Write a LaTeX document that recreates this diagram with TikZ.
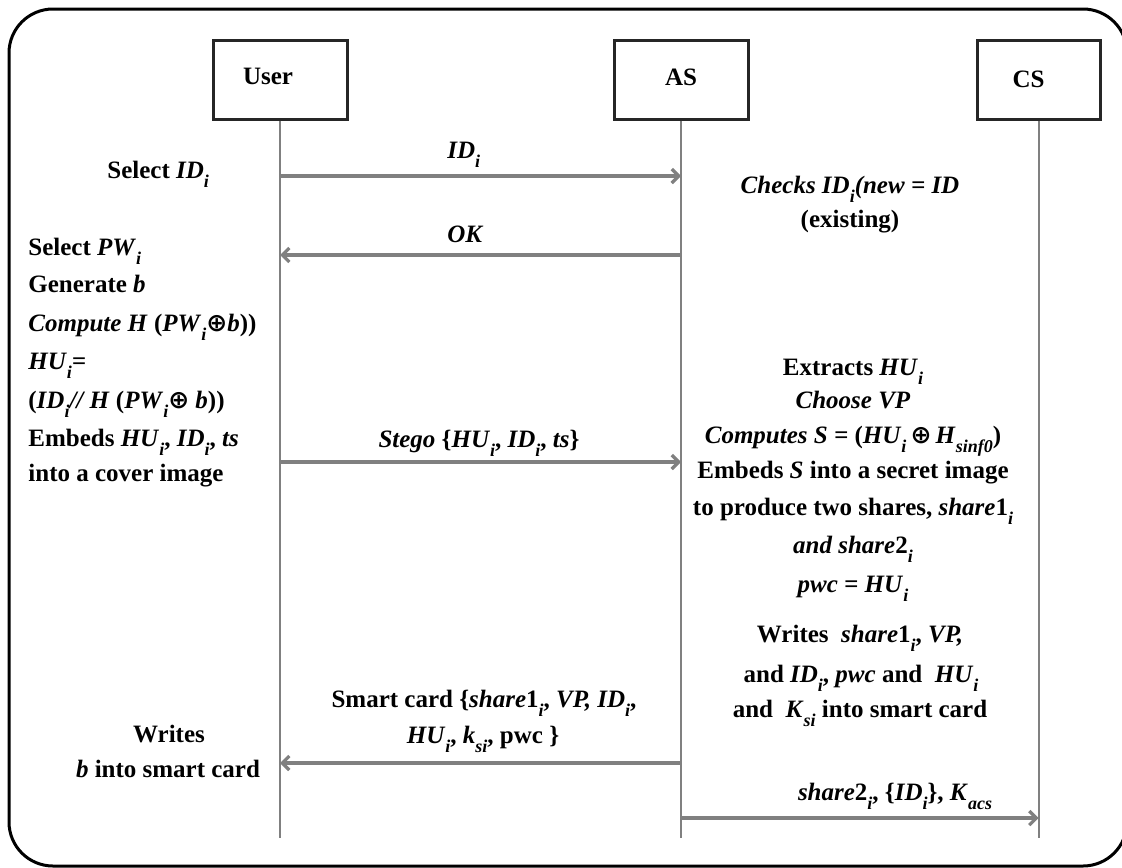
\documentclass[tikz,border=0pt]{standalone}
\usepackage{fontspec}
\setmainfont{Liberation Serif}
\newfontfamily\symfont{DejaVu Sans}
\usetikzlibrary{arrows.meta}
\newcommand{\lo}[1]{\raisebox{-0.85ex}{\fontsize{9}{9}\selectfont\bfseries\itshape #1}}
\newcommand{\xo}{{\symfont\bfseries\char"2295}}
\begin{document}
\begin{tikzpicture}[x=0.5pt,y=-0.5pt,
  every node/.style={font=\fontsize{12.5}{14}\selectfont\bfseries, inner sep=0pt},
  actor/.style={draw=black!85, line width=1.5pt, minimum height=39.5pt, fill=white, font=\fontsize{12.5}{14}\selectfont\bfseries},
  life/.style={draw=black!50, line width=1pt},
  msg/.style={draw=black!50, line width=1.6pt, -{Straight Barb[length=3.5pt,width=7pt]}},
  ln/.style={anchor=base},
  lnw/.style={anchor=base west}]
\useasboundingbox (0,0) rectangle (1122,867);
\clip (0,0) rectangle (1122,867);
\draw[line width=1.5pt, rounded corners=22pt] (9,9) rectangle (1127,866);

% actors
\node[actor, minimum width=67pt] (user) at (280,79.5) {\raisebox{2.75pt}{User}\hspace*{12pt}};
\node[actor, minimum width=67pt] (as) at (681,79.5) {\raisebox{2.75pt}{AS}};
\node[actor, minimum width=61.5pt] (cs) at (1038.5,79.5) {\raisebox{-3pt}{CS}\hspace*{10pt}};

% y levels
\path (0,838) coordinate (yend) (0,176) coordinate (y1) (0,255) coordinate (y2)
      (0,462) coordinate (y3) (0,763) coordinate (y4) (0,818) coordinate (y5);

% lifelines
\draw[life] (user.south) -- (user.south |- yend);
\draw[life] (as.south) -- (as.south |- yend);
\draw[life] (cs.south) -- (cs.south |- yend);

% messages
\draw[msg] (user.south |- y1) -- (as.south |- y1);
\draw[msg] (as.south |- y2) -- (user.south |- y2);
\draw[msg] (user.south |- y3) -- (as.south |- y3);
\draw[msg] (as.south |- y4) -- (user.south |- y4);
\draw[msg] (as.south |- y5) -- (cs.south |- y5);

% message labels
\node[lnw] (m1) at (447,158) {\textit{ID}\lo{i}};
\node[lnw] (m2) at (447,242) {\textit{OK}};
\node[ln] (m3) at (479,447) {\textit{Stego} \{\textit{HU}\lo{i}, \textit{ID}\lo{i}, \textit{ts}\}};
\node[ln] (m4a) at (484,707) {Smart card \{\textit{share}1\lo{i}, \textit{VP, ID}\lo{i},};
\node[ln] (m4b) at (483,743) {\textit{HU}\lo{i}, \textit{k}\lo{si}, pwc \}};
\node[ln] (m5) at (895,800) {\textit{share}2\lo{i}, \{\textit{ID}\lo{i}\}, \textit{K}\lo{acs}};

% user side
\node[lnw] (u1) at (107,178) {Select \textit{ID}\lo{i}};
\node[lnw] (u2) at (28,255) {Select \textit{PW}\lo{i}};
\node[lnw] (u3) at (28,292) {Generate \textit{b}};
\node[lnw] (u4) at (28,331) {\textit{Compute H} (\textit{PW}\lo{i}\xo\textit{b}))};
\node[lnw] (u5) at (28,369) {\textit{HU}\lo{i}\textit{=}};
\node[lnw] (u6) at (28,408) {(\textit{ID}\lo{i}\textit{// H} (\textit{PW}\lo{i}\xo\ \textit{b}))};
\node[lnw] (u7) at (28,446) {Embeds \textit{HU}\lo{i}, \textit{ID}\lo{i}, \textit{ts}};
\node[lnw] (u8) at (28,481) {into a cover image};
\node[ln] (u9) at (169,742) {Writes};
\node[ln] (u10) at (168,777) {\textit{b} into smart card};

% AS side
\node[ln] (a1) at (850,193) {\textit{Checks ID}\lo{i}\textit{(new = ID}};
\node[ln] (a2) at (850,227) {(existing)};
\node[ln] (a3) at (853,375) {Extracts \textit{HU}\lo{i}};
\node[ln] (a4) at (853,408) {\textit{Choose VP}};
\node[ln] (a5) at (853,443) {\textit{Computes S =} (\textit{HU}\lo{i}\,\xo\,\textit{H}\lo{sinf0})};
\node[ln] (a6) at (853,478) {Embeds \textit{S} into a secret image};
\node[ln] (a7) at (853,515) {to produce two shares, \textit{share}1\lo{i}};
\node[ln] (a8) at (853,553) {\textit{and share}2\lo{i}};
\node[ln] (a9) at (853,592) {\textit{pwc = HU}\lo{i}};
\node[ln] (a10) at (860,642) {Writes \ \textit{share}1\lo{i}, \textit{VP,}};
\node[ln] (a11) at (861,682) {and \textit{ID}\lo{i}, \textit{pwc} and \ \textit{HU}\lo{i}};
\node[ln] (a12) at (860,717) {and \ \textit{K}\lo{si} into smart card};
\end{tikzpicture}
\end{document}
